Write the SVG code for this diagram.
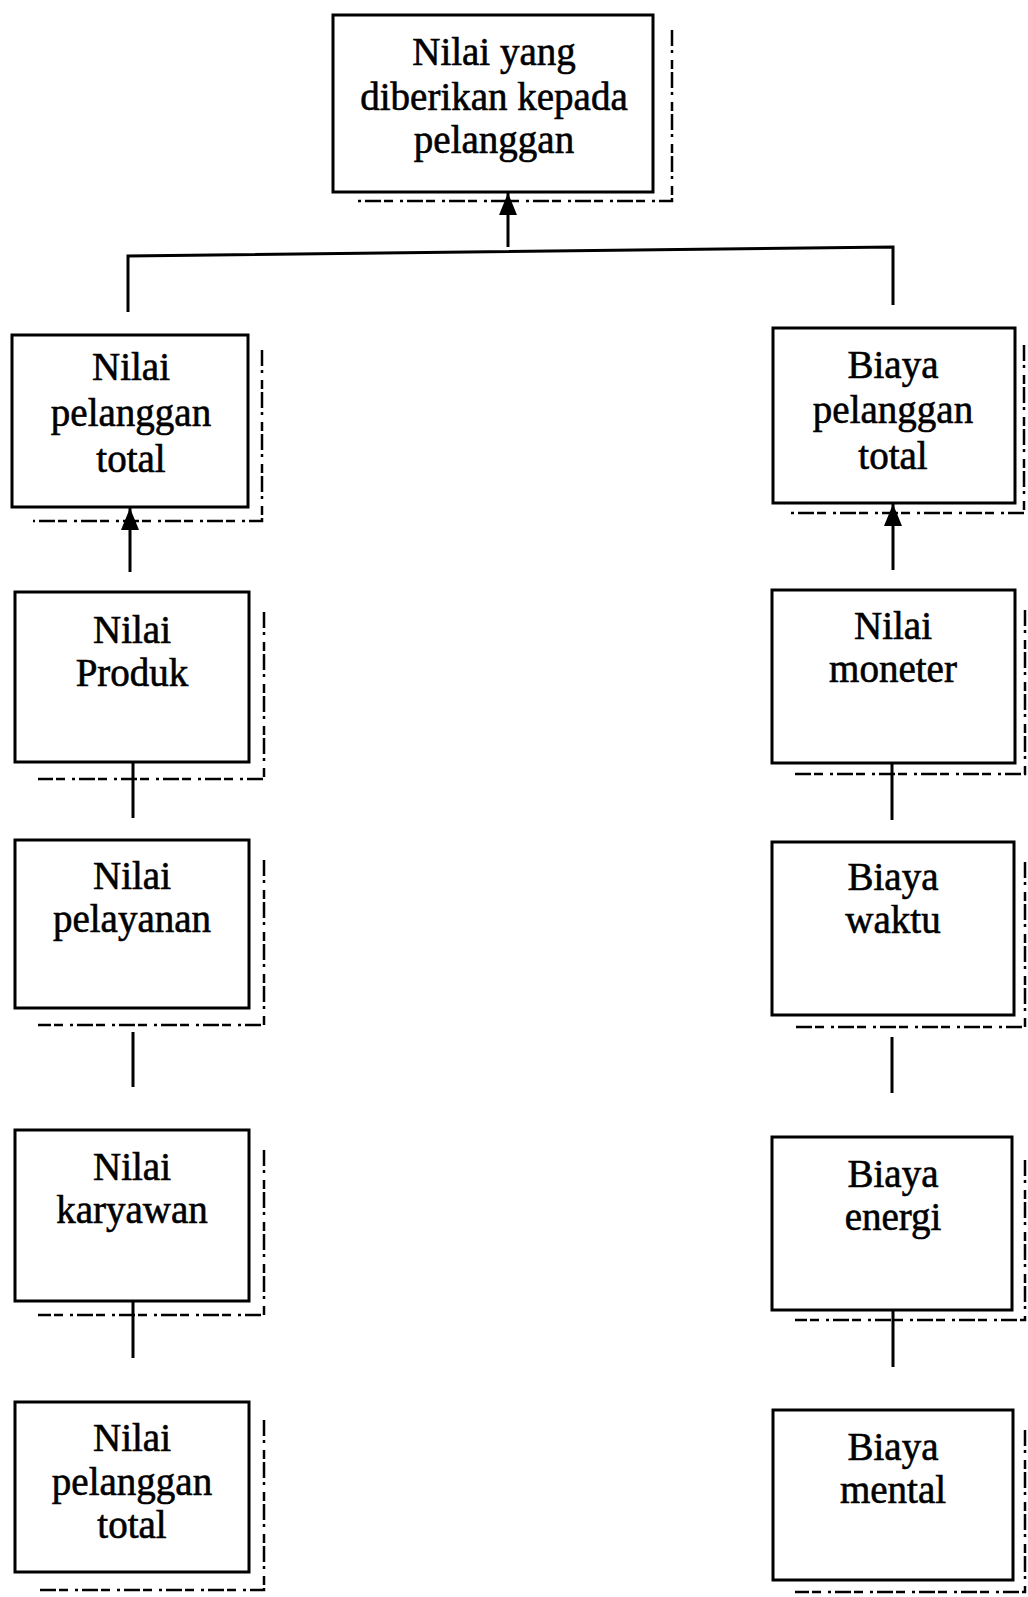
<svg xmlns="http://www.w3.org/2000/svg" width="1028" height="1597" viewBox="0 0 1028 1597">
<style>
.box{fill:#fff;stroke:#000;stroke-width:3}
.shadow{fill:none;stroke:#000;stroke-width:2.5;stroke-dasharray:16 4 3 7 9 3}
.lbl{font-family:"Liberation Serif","Times New Roman",serif;font-size:39px;fill:#000;stroke:#000;stroke-width:0.6;text-anchor:middle}
.conn{fill:none;stroke:#000;stroke-width:3}
</style>
<defs>
<marker id="ah" markerUnits="userSpaceOnUse" markerWidth="24" markerHeight="20" refX="22" refY="9" orient="auto">
<path d="M0,0 L22,9 L0,18 z" fill="#000"/>
</marker>
</defs>
<rect width="1028" height="1597" fill="#fff"/>

<g id="connectors">
<polyline class="conn" points="128,312 128,256 893,247 893,305"/>
<line class="conn" x1="508" y1="247" x2="508" y2="193" marker-end="url(#ah)"/>
<line class="conn" x1="130" y1="572" x2="130" y2="508" marker-end="url(#ah)"/>
<line class="conn" x1="893" y1="570" x2="893" y2="504" marker-end="url(#ah)"/>
<line class="conn" x1="133" y1="762" x2="133" y2="818"/>
<line class="conn" x1="133" y1="1032" x2="133" y2="1087"/>
<line class="conn" x1="133" y1="1301" x2="133" y2="1358"/>
<line class="conn" x1="892" y1="763" x2="892" y2="820"/>
<line class="conn" x1="892" y1="1037" x2="892" y2="1093"/>
<line class="conn" x1="893" y1="1310" x2="893" y2="1367"/>
</g>

<g id="n-top">
<path class="shadow" d="M672,30 L672,201 L352,201"/>
<rect class="box" x="333" y="15" width="320" height="177"/>
<text class="lbl" x="494" y="65">Nilai yang</text>
<text class="lbl" x="494" y="110">diberikan kepada</text>
<text class="lbl" x="494" y="153">pelanggan</text>
</g>

<g id="n-nilai-pelanggan-total">
<path class="shadow" d="M262,350 L262,521 L33,521"/>
<rect class="box" x="12" y="335" width="236" height="172"/>
<text class="lbl" x="131" y="380">Nilai</text>
<text class="lbl" x="131" y="426">pelanggan</text>
<text class="lbl" x="131" y="472">total</text>
</g>

<g id="n-biaya-pelanggan-total">
<path class="shadow" d="M1024,345 L1024,513 L790,513"/>
<rect class="box" x="773" y="328" width="242" height="175"/>
<text class="lbl" x="893" y="378">Biaya</text>
<text class="lbl" x="893" y="423">pelanggan</text>
<text class="lbl" x="893" y="469">total</text>
</g>

<g id="n-nilai-produk">
<path class="shadow" d="M264,612 L264,779 L38,779"/>
<rect class="box" x="15" y="592" width="234" height="170"/>
<text class="lbl" x="132" y="643">Nilai</text>
<text class="lbl" x="132" y="686">Produk</text>
</g>

<g id="n-nilai-pelayanan">
<path class="shadow" d="M264,860 L264,1025 L38,1025"/>
<rect class="box" x="15" y="840" width="234" height="168"/>
<text class="lbl" x="132" y="889">Nilai</text>
<text class="lbl" x="132" y="932">pelayanan</text>
</g>

<g id="n-nilai-karyawan">
<path class="shadow" d="M264,1150 L264,1315 L38,1315"/>
<rect class="box" x="15" y="1130" width="234" height="171"/>
<text class="lbl" x="132" y="1180">Nilai</text>
<text class="lbl" x="132" y="1223">karyawan</text>
</g>

<g id="n-nilai-pelanggan-total-2">
<path class="shadow" d="M264,1420 L264,1590 L38,1590"/>
<rect class="box" x="15" y="1402" width="234" height="170"/>
<text class="lbl" x="132" y="1451">Nilai</text>
<text class="lbl" x="132" y="1495">pelanggan</text>
<text class="lbl" x="132" y="1538">total</text>
</g>

<g id="n-nilai-moneter">
<path class="shadow" d="M1025,610 L1025,774 L795,774"/>
<rect class="box" x="772" y="590" width="243" height="173"/>
<text class="lbl" x="893" y="639">Nilai</text>
<text class="lbl" x="893" y="682">moneter</text>
</g>

<g id="n-biaya-waktu">
<path class="shadow" d="M1025,862 L1025,1027 L795,1027"/>
<rect class="box" x="772" y="842" width="242" height="173"/>
<text class="lbl" x="893" y="890">Biaya</text>
<text class="lbl" x="893" y="933">waktu</text>
</g>

<g id="n-biaya-energi">
<path class="shadow" d="M1025,1160 L1025,1320 L795,1320"/>
<rect class="box" x="772" y="1137" width="240" height="173"/>
<text class="lbl" x="893" y="1187">Biaya</text>
<text class="lbl" x="893" y="1230">energi</text>
</g>

<g id="n-biaya-mental">
<path class="shadow" d="M1025,1430 L1025,1592 L795,1592"/>
<rect class="box" x="773" y="1410" width="240" height="170"/>
<text class="lbl" x="893" y="1460">Biaya</text>
<text class="lbl" x="893" y="1503">mental</text>
</g>
</svg>
